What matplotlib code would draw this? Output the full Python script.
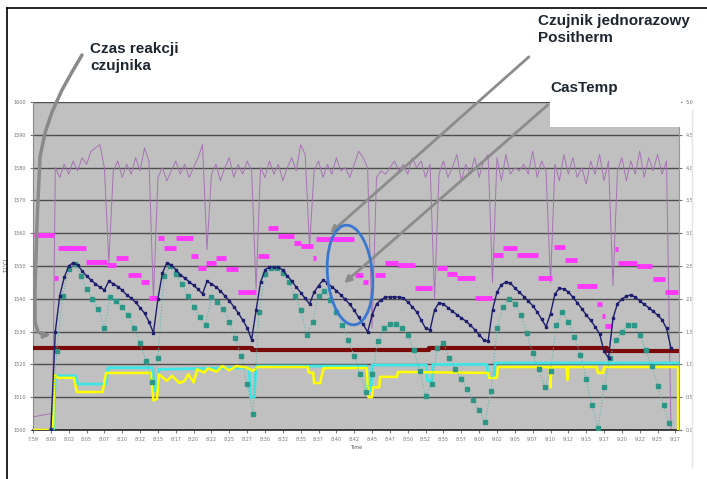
import numpy as np
import matplotlib.pyplot as plt
from matplotlib.patches import Ellipse, Rectangle, FancyArrowPatch
from matplotlib.lines import Line2D

# time axis: one unit per tick label
time_labels = ["7:59", "8:00", "8:02", "8:05", "8:07", "8:10", "8:12", "8:15", "8:17",
               "8:20", "8:22", "8:25", "8:27", "8:30", "8:32", "8:35", "8:37", "8:40",
               "8:42", "8:45", "8:47", "8:50", "8:52", "8:55", "8:57", "9:00", "9:02",
               "9:05", "9:07", "9:10", "9:12", "9:15", "9:17", "9:20", "9:22", "9:25", "9:27"]
temp_ticks = list(range(1500, 1601, 10))
right_ticks = [0, 0.5, 1, 1.5, 2, 2.5, 3, 3.5, 4, 4.5, 5]

# purple: noisy signal, sampled every 0.25 from t=1.25
purple_start_t = [0, 1.0, 1.1]
purple_start_v = [1504, 1505, 1505]
purple_v = [1580, 1577, 1581, 1578, 1582, 1579, 1583, 1581, 1585, 1586,
            1587, 1580, 1551, 1579, 1582, 1577, 1581, 1578, 1583, 1579,
            1586, 1582, 1540, 1577, 1580, 1576, 1579, 1582, 1578, 1581,
            1577, 1580, 1583, 1587, 1555, 1578, 1581, 1576, 1580, 1583,
            1577, 1581, 1578, 1582, 1579, 1543, 1580, 1577, 1582, 1578,
            1581, 1576, 1580, 1583, 1579, 1587, 1584, 1556, 1579, 1582,
            1577, 1581, 1578, 1583, 1579, 1580, 1577, 1581, 1585, 1583,
            1580, 1531, 1577, 1579, 1578, 1580, 1582, 1579, 1581, 1578,
            1583, 1580, 1582, 1577, 1581, 1540, 1578, 1582, 1577, 1580,
            1584, 1576, 1581, 1578, 1583, 1577, 1582, 1584, 1545, 1583,
            1576, 1584, 1578, 1580, 1579, 1581, 1578, 1585, 1577, 1582,
            1579, 1545, 1581, 1576, 1584, 1578, 1583, 1577, 1580, 1575,
            1582, 1578, 1584, 1576, 1582, 1544, 1579, 1583, 1576, 1582,
            1578, 1585, 1577, 1583, 1579, 1584, 1578, 1582, 1500]

# navy (Positherm-like trace), sampled every 0.25 from t=1.0
navy_v = [1500, 1530, 1541, 1546.5, 1550, 1551, 1550.3, 1548.5, 1547, 1545.7,
          1544.6, 1543.5, 1542.7, 1545.4, 1544.6, 1543.7, 1542.6, 1541.2, 1540.2, 1538.9,
          1537.3, 1535.6, 1533, 1529.6, 1540, 1547.8, 1551, 1550.3, 1548.9, 1547.4,
          1546.3, 1545.2, 1544.1, 1542.9, 1541.5, 1545.3, 1544.6, 1543.6, 1542.4, 1540.9,
          1539.4, 1537.6, 1535.7, 1533.5, 1531.2, 1527.5, 1536.5, 1545, 1548.8, 1549.7,
          1549.8, 1549.7, 1548.7, 1547, 1545.4, 1543.6, 1541.9, 1540.1, 1538.4, 1542,
          1544, 1545.7, 1544.9, 1543.6, 1542.5, 1541.2, 1539.8, 1538.3, 1536.5, 1534.3,
          1532.2, 1529.9, 1535, 1538.4, 1539.7, 1540.5, 1540.6, 1540.6, 1540.5, 1540.3,
          1539, 1537.6, 1536, 1533.5, 1531, 1530.5, 1536.6, 1538.8, 1538.4, 1537.3,
          1536.2, 1535.2, 1534.2, 1533.2, 1532, 1530.6, 1529.1, 1527.5, 1527, 1536.6,
          1542, 1544.3, 1545.1, 1544.8, 1543.3, 1542, 1540.7, 1539.3, 1537.9, 1536,
          1533.8, 1531.5, 1535.5, 1541.5, 1543.2, 1543, 1542.1, 1540.5, 1538.8, 1537,
          1535.1, 1533.4, 1531.5, 1529.3, 1524, 1522, 1534, 1538.5, 1539.9, 1540.8,
          1541.2, 1540.5, 1539.4, 1538.3, 1537.3, 1536.2, 1535, 1533.6, 1531, 1525]

# teal (CasTemp-like trace), sampled every 1/3 from t=1.0
teal_v = [1500, 1524, 1541, 1549, 1550.5, 1547, 1543, 1540, 1537, 1531,
          1540.5, 1539.3, 1537.6, 1535, 1531, 1526.5, 1521, 1514.5, 1522, 1547,
          1550, 1547.5, 1544.5, 1541, 1537.5, 1534.3, 1532, 1540.5, 1539, 1537,
          1533, 1528, 1522.5, 1514, 1505, 1536, 1547.5, 1549.4, 1549.4, 1548,
          1545, 1541, 1536.6, 1529, 1533, 1541, 1542.5, 1539.5, 1536, 1532,
          1527.5, 1522.5, 1517, 1511.5, 1517, 1527, 1531, 1532.3, 1532.3, 1531.2,
          1529, 1524.5, 1518, 1510.5, 1514, 1525, 1526.5, 1522, 1518.5, 1515.7,
          1512.5, 1509, 1506, 1502.5, 1512, 1531, 1537.5, 1540, 1538.5, 1535,
          1529.5, 1523.5, 1518.5, 1513, 1518, 1532, 1536, 1533, 1528.5, 1523,
          1515.5, 1507.5, 1500.5, 1513, 1522, 1527.5, 1530, 1532, 1532, 1529,
          1524.5, 1519.5, 1513.5, 1507.5, 1502]

# magenta set-point segments
mag_start = [0.06, 1.18, 1.4, 2.97, 4.14, 4.64, 5.32, 6.04, 6.49, 7.0, 7.33, 8.0, 8.84,
             9.23, 9.68, 10.24, 10.8, 11.47, 12.59, 13.15, 13.71, 14.61, 15.0, 15.67,
             15.84, 18.07, 18.47, 19.19, 19.75, 20.48, 21.43, 22.66, 23.22, 23.78, 24.79,
             25.8, 26.36, 27.14, 28.32, 29.21, 29.83, 30.5, 31.62, 31.9, 32.06, 32.62,
             32.79, 33.86, 34.75, 35.42]
mag_end = [1.18, 1.4, 2.97, 4.14, 4.64, 5.32, 6.04, 6.49, 6.94, 7.33, 8.0, 8.95, 9.23,
           9.68, 10.24, 10.8, 11.47, 12.48, 13.21, 13.71, 14.61, 15.0, 15.67, 15.84,
           17.96, 18.47, 18.8, 19.75, 20.48, 21.43, 22.38, 23.22, 23.78, 24.79, 25.74,
           26.36, 27.14, 28.32, 29.1, 29.83, 30.5, 31.62, 31.9, 32.06, 32.46, 32.79,
           33.86, 34.69, 35.42, 36.15]
mag_v = [1559.5, 1546.3, 1555.5, 1551.2, 1550.3, 1552.4, 1547.3, 1545.1, 1540.2, 1558.5,
         1555.5, 1558.5, 1553.1, 1549.4, 1550.9, 1552.4, 1549.1, 1542.1, 1553.1, 1561.6,
         1559.2, 1557.0, 1556.1, 1552.4, 1558.2, 1547.3, 1545.1, 1547.3, 1550.9, 1550.3,
         1543.3, 1549.4, 1547.6, 1546.3, 1540.2, 1553.4, 1555.5, 1553.4, 1546.3, 1555.8,
         1551.8, 1543.9, 1538.4, 1534.8, 1531.7, 1555.2, 1550.9, 1550.0, 1546.0, 1542.1]

# dark red line (steps)
red_t = [0, 12.3, 22.2, 32.15, 36.2]
red_v = [1525, 1524.3, 1525, 1524.2, 1524.2]

# cyan line
cyan_t = [1.15, 1.25, 2.4, 2.5, 4.1, 4.2, 6.7, 6.8, 6.95, 7.05, 12.1, 12.2, 12.4, 12.5,
          18.7, 18.75, 18.95, 19.0, 22.05, 22.1, 22.35, 22.4, 25.45, 25.5, 25.85, 25.9,
          36.2]
cyan_v = [1500, 1516.5, 1516.5, 1514, 1514, 1519, 1519, 1512, 1512, 1518.5, 1519, 1510,
          1510, 1519.5, 1519.5, 1512, 1512, 1519.8, 1519.8, 1515, 1515, 1520, 1520, 1516,
          1516, 1520.4, 1520.4]

# yellow line
yellow_t = [0, 1.12, 1.18, 1.4, 2.3, 2.45, 3.9, 4.1, 6.6, 6.75, 6.95, 7.05, 7.5, 7.8, 8.2,
            8.5, 8.7, 9.0, 9.2, 9.6, 9.8, 10.3, 10.6, 11.0, 11.4, 12.0, 12.3, 12.6, 15.4,
            15.45, 15.7, 15.75, 16.1, 16.15, 16.3, 18.7, 18.8, 19.0, 19.05, 19.4, 19.45,
            20.4, 20.45, 25.5, 25.55, 26.0, 26.05, 28.95, 29.0, 29.05, 29.9, 29.95, 30.0,
            31.6, 31.65, 31.95, 32.0, 36.15, 36.15]
yellow_v = [1500, 1500, 1516.8, 1515.9, 1515.9, 1511.6, 1511.6, 1517.4, 1517.4, 1509,
            1509.5, 1517, 1515, 1516.5, 1514.3, 1515, 1517, 1514.5, 1518.5, 1517.5,
            1518.8, 1517.8, 1519.5, 1518.2, 1519.5, 1519, 1518, 1519.2, 1519.2, 1517.5,
            1517.5, 1514.3, 1514.3, 1516, 1518.9, 1518.9, 1510, 1510, 1513, 1513, 1516.2,
            1516.2, 1517.7, 1517.4, 1515.9, 1515.9, 1519.2, 1519.2, 1513, 1519.2, 1519.2,
            1515.2, 1519.2, 1519.2, 1517.4, 1517.4, 1519.2, 1519.2, 1500]

purple_t = purple_start_t + list(1.25 + 0.25 * np.arange(len(purple_v)))
navy_t = 1.0 + 0.25 * np.arange(len(navy_v))
teal_t = 1.0 + np.arange(len(teal_v)) / 3.0

W, H = 707, 479
fig = plt.figure(figsize=(W / 100, H / 100), dpi=100)
ax = fig.add_axes([33 / W, 1 - 430 / H, (679 - 33) / W, (430 - 102) / H])
ax.set_facecolor("#c0c0c0")

ax.plot(purple_t, purple_start_v + purple_v, color="#a673b4", lw=0.7, zorder=2)
ax.plot(cyan_t, cyan_v, color="#3ee6e6", lw=2, zorder=3)
ax.plot(yellow_t, yellow_v, color="#ffff00", lw=1.8, zorder=4)
ax.step(red_t, red_v, where="post", color="#7a0a0a", lw=3, zorder=5)
ax.hlines(mag_v, mag_start, mag_end, colors="#ff38ff", lw=3.5, zorder=6)
ax.plot(teal_t, teal_v, color="#5cbcb0", lw=0.8, ls=":", marker="s", ms=3.5,
        mfc="#2e9686", mec="#2e9686", zorder=7)
ax.plot(navy_t, navy_v, color="#1e1e6e", lw=1, marker="s", ms=2, zorder=8)

ax.set_xlim(0, 36.2)
ax.set_ylim(1500, 1600)
ax.set_xticks(range(len(time_labels)))
ax.set_xticklabels(time_labels)
ax.set_yticks(temp_ticks)
ax.yaxis.grid(True, color="#4e4e4e", lw=1)
ax.set_axisbelow(True)
ax.tick_params(labelsize=3.5, colors="#777777", length=2, pad=3)
for s in ["top", "right"]:
    ax.spines[s].set_visible(False)
ax.spines["bottom"].set_color("#222222")
ax.spines["bottom"].set_linewidth(1.2)
ax.spines["left"].set_color("#888888")
ax.set_xlabel("Time", fontsize=3.5, color="#555555", labelpad=2)
ax.set_ylabel("T [°C]", fontsize=3.5, color="#555555", labelpad=4)

ax2 = ax.twinx()
ax2.set_ylim(0, 5)
ax2.set_yticks(right_ticks)
ax2.tick_params(labelsize=3.5, colors="#777777", length=2, pad=3)
for s in ["top", "left", "bottom"]:
    ax2.spines[s].set_visible(False)
ax2.spines["right"].set_color("#999999")

# annotations in pixel space
tr = fig.dpi_scale_trans


def px(x, y):
    return (x / 100, (H - y) / 100)


fig.add_artist(Rectangle(px(550, 127), 131 / 100, 32 / 100, transform=tr,
                         facecolor="white", edgecolor="none", zorder=10))

curve = [(82, 55), (72, 72), (62, 90), (52, 112), (45, 133), (40, 157), (37, 223),
         (35, 290), (35, 322), (38, 332), (44, 335)]
cx = [px(a, b)[0] for a, b in curve]
cy = [px(a, b)[1] for a, b in curve]
fig.add_artist(Line2D(cx, cy, transform=tr, color="#8a8a8a", lw=2.5,
                      solid_capstyle="round", zorder=11))
fig.add_artist(FancyArrowPatch(px(42, 335), px(53, 335), transform=tr,
                               arrowstyle="-|>", mutation_scale=9,
                               color="#8a8a8a", lw=2, zorder=11))
fig.add_artist(FancyArrowPatch(px(531, 55), px(328, 235), transform=tr,
                               arrowstyle="-|>", mutation_scale=10,
                               color="#8c8c8c", lw=2, zorder=11))
fig.add_artist(FancyArrowPatch(px(550, 103), px(342, 285), transform=tr,
                               arrowstyle="-|>", mutation_scale=10,
                               color="#8c8c8c", lw=2, zorder=11))
fig.add_artist(Ellipse(px(350, 275), 45 / 100, 100 / 100, angle=5, transform=tr,
                       fill=False, edgecolor="#3a78d0", lw=2, zorder=11))

tk = dict(fontsize=11, fontweight="bold", color="#1e2630",
          family=["Liberation Sans", "DejaVu Sans"], va="top", ha="left",
          linespacing=1.25, zorder=12)
fig.text(90 / W, 1 - 42 / H, "Czas reakcji\nczujnika", **tk)
fig.text(538 / W, 1 - 14 / H, "Czujnik jednorazowy\nPositherm", **tk)
fig.text(550 / W, 1 - 81 / H, "CasTemp", **tk)

# outer frame
fig.add_artist(Line2D([7 / W, 1], [1 - 8 / H, 1 - 8 / H], transform=fig.transFigure,
                      color="black", lw=1.2))
fig.add_artist(Line2D([7 / W, 7 / W], [0, 1 - 8 / H], transform=fig.transFigure,
                      color="black", lw=1.2))
fig.add_artist(Line2D([692 / W, 692 / W], [1 - 467 / H, 1 - 110 / H],
                      transform=fig.transFigure, color="#e4e4e4", lw=1))

fig.savefig("out.png", dpi=100)
